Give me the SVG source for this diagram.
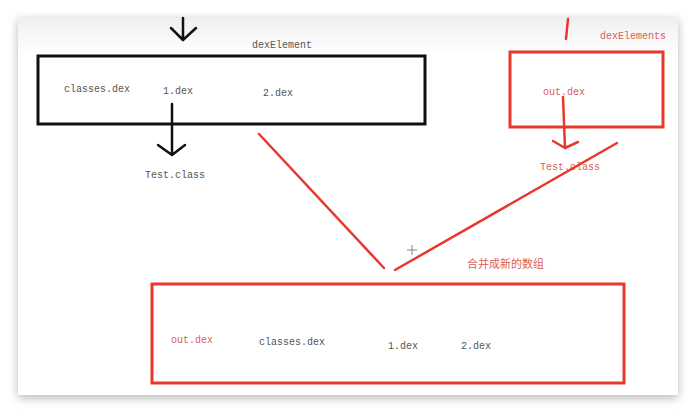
<svg xmlns="http://www.w3.org/2000/svg" width="696" height="414" viewBox="0 0 696 414">
<defs>
<filter id="sh" x="-10%" y="-10%" width="120%" height="120%">
<feGaussianBlur stdDeviation="5"/>
</filter>
<linearGradient id="topg" x1="0" y1="0" x2="0" y2="1">
<stop offset="0" stop-color="#efefef"/>
<stop offset="1" stop-color="#ffffff"/>
</linearGradient>
<style>
.t{font-family:"Liberation Mono","DejaVu Sans Mono",monospace;font-size:10px;fill:#555}
.r{font-family:"Liberation Mono","DejaVu Sans Mono",monospace;font-size:10px;fill:#d9605a}
.cjk{font-family:"Noto Sans CJK SC",sans-serif;font-size:11px;fill:#d9605a}
.kb{fill:none;stroke:#111;stroke-width:3}
.rb{fill:none;stroke:#e8382d;stroke-width:3}
.kl{fill:none;stroke:#111;stroke-width:2.5;stroke-linecap:round;stroke-linejoin:round}
.rl{fill:none;stroke:#e8382d;stroke-width:2.5;stroke-linecap:round;stroke-linejoin:round}
</style>
</defs>
<rect width="696" height="414" fill="#ffffff"/>
<rect x="18" y="20" width="660" height="378" fill="#b8b8b8" filter="url(#sh)"/>
<rect x="18" y="18" width="660" height="377" fill="#ffffff"/>
<rect x="18" y="18" width="660" height="36" fill="url(#topg)"/>

<g id="dexElement-box">
<rect class="kb" x="38" y="56" width="387" height="68"/>
<text class="t" x="252" y="48">dexElement</text>
<text class="t" x="64" y="92">classes.dex</text>
<text class="t" x="163" y="94">1.dex</text>
<text class="t" x="263" y="96">2.dex</text>
</g>
<g id="test-class-left">
<text class="t" x="145" y="178">Test.class</text>
</g>
<g id="dexElements-box">
<rect class="rb" x="510" y="52" width="153" height="75"/>
<text class="r" x="600" y="39">dexElements</text>
<text class="r" x="543" y="95">out.dex</text>
</g>
<g id="test-class-right">
<text class="r" x="540" y="170">Test.class</text>
</g>
<g id="merged-box">
<rect class="rb" x="152" y="284" width="472" height="99"/>
<text class="cjk" x="467" y="268">合并成新的数组</text>
<text class="r" x="171" y="343">out.dex</text>
<text class="t" x="259" y="345">classes.dex</text>
<text class="t" x="388" y="349">1.dex</text>
<text class="t" x="461" y="349">2.dex</text>
</g>
<g id="connectors">
<path class="kl" d="M183 18 V39 M171 28 L183 40 L196 28"/>
<path class="kl" d="M172 104 V155 M158 145 L172 155 L185 145"/>
<path class="rl" d="M568 19 L566 39"/>
<path class="rl" d="M563 97 L565 148 M553 141 L565 148 L578 142"/>
<path class="rl" d="M259 134 L384 268"/>
<path class="rl" d="M617 143 L395 270"/>
<path d="M412 245 V255 M407 250 H417" stroke="#888" stroke-width="1" fill="none"/>
</g>
</svg>
